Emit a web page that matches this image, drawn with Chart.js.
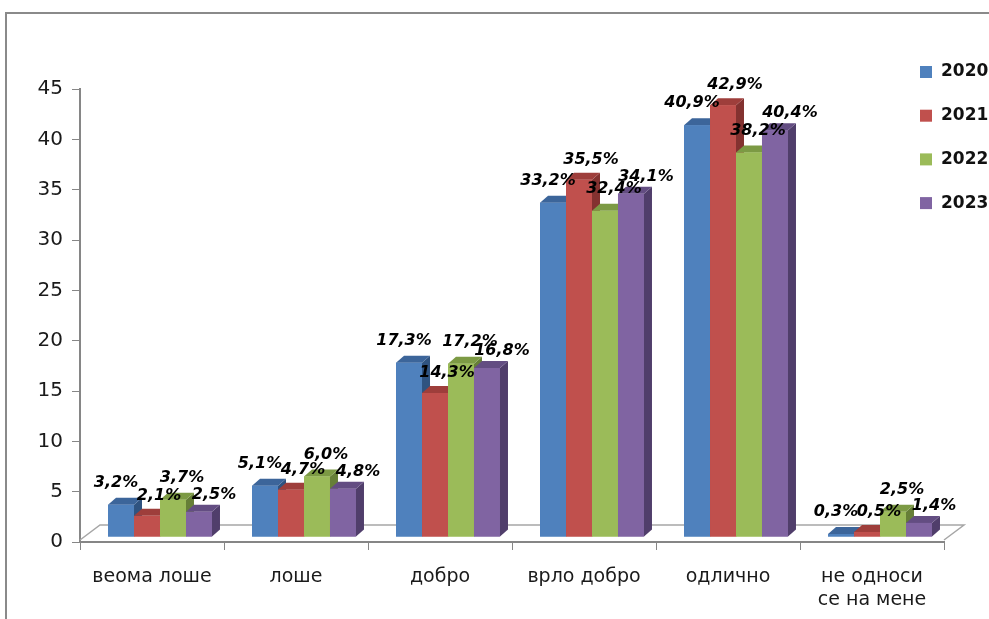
<!DOCTYPE html>
<html>
<head>
<meta charset="utf-8">
<script src="https://cdn.jsdelivr.net/npm/chart.js@4.4.1/dist/chart.umd.min.js"></script>
<style>
html,body{margin:0;padding:0;background:#fff;overflow:hidden;}
#wrap{position:relative;width:989px;height:619px;overflow:hidden;}
#frame{position:absolute;left:5px;top:12px;width:1100px;height:700px;border-left:2px solid #8a8a8a;border-top:2px solid #8a8a8a;pointer-events:none;}
</style>
</head>
<body>
<div id="wrap"><canvas id="mycanvas" width="989" height="619"></canvas><div id="frame"></div></div>
<script>
// data
var categories = ['веома лоше', 'лоше', 'добро', 'врло добро', 'одлично', ['не односи', 'се на мене']];
var years = ['2020', '2021', '2022', '2023'];
var v2020 = [3.2, 5.1, 17.3, 33.2, 40.9, 0.3];
var v2021 = [2.1, 4.7, 14.3, 35.5, 42.9, 0.5];
var v2022 = [3.7, 6.0, 17.2, 32.4, 38.2, 2.5];
var v2023 = [2.5, 4.8, 16.8, 34.1, 40.4, 1.4];
var yMin = 0, yMax = 45, yStep = 5;

var colors = ['#4F81BD', '#C0504D', '#9BBB59', '#8064A2'];
var topColors = ['#3C659A', '#9E3E3B', '#7C9A44', '#634D82'];
var sideColors = ['#2F5380', '#833230', '#667F37', '#503E6B'];
// where each series puts its value label, relative to the bar top
var labelShift = [[-5, -22], [12, -20], [9, -22], [15, -17]];

var DX = 8, DY = -7;      // bar depth
var FX = 20, FY = -15;    // floor depth

var series = [v2020, v2021, v2022, v2023];
var datasets = [];
for (var i = 0; i < series.length; i++) {
	datasets.push({
		label: years[i],
		data: series[i],
		backgroundColor: colors[i],
		borderWidth: 0,
		categoryPercentage: 0.722,
		barPercentage: 1.0
	});
}

function fmt(v) {
	return v.toFixed(1).replace('.', ',') + '%';
}

var bars3d = {
	id: 'bars3d',
	beforeDatasetsDraw: function(chart) {
		var ctx = chart.ctx, a = chart.chartArea;
		// floor
		ctx.save();
		ctx.strokeStyle = '#a6a6a6';
		ctx.lineWidth = 1.5;
		ctx.beginPath();
		ctx.moveTo(a.left, a.bottom - 2);
		ctx.lineTo(a.left + FX, a.bottom - 2 + FY);
		ctx.lineTo(a.right + FX, a.bottom - 2 + FY);
		ctx.lineTo(a.right, a.bottom - 2);
		ctx.stroke();
		ctx.restore();
		ctx.save();
		ctx.translate(8, -5);
	},
	afterDatasetsDraw: function(chart) {
		var ctx = chart.ctx;
		var n = chart.data.labels.length;
		for (var j = 0; j < n; j++) {
			for (var d = 0; d < chart.data.datasets.length; d++) {
				var bar = chart.getDatasetMeta(d).data[j];
				var l = bar.x - bar.width / 2, r = bar.x + bar.width / 2;
				var t = bar.y, b = bar.base;
				ctx.fillStyle = sideColors[d];
				ctx.beginPath();
				ctx.moveTo(r, t); ctx.lineTo(r + DX, t + DY); ctx.lineTo(r + DX, b + DY); ctx.lineTo(r, b);
				ctx.closePath(); ctx.fill();
				ctx.fillStyle = topColors[d];
				ctx.beginPath();
				ctx.moveTo(l, t); ctx.lineTo(l + DX, t + DY); ctx.lineTo(r + DX, t + DY); ctx.lineTo(r, t);
				ctx.closePath(); ctx.fill();
				bar.draw(ctx);
			}
		}
		ctx.font = 'italic bold 16px "DejaVu Sans"';
		ctx.fillStyle = '#000';
		ctx.textAlign = 'center';
		ctx.textBaseline = 'middle';
		for (var d2 = 0; d2 < chart.data.datasets.length; d2++) {
			var meta = chart.getDatasetMeta(d2);
			meta.data.forEach(function(bar, k) {
				var v = chart.data.datasets[d2].data[k];
				ctx.fillText(fmt(v), bar.x + labelShift[d2][0], bar.y + labelShift[d2][1]);
			});
		}
		ctx.restore();
	}
};

var sideLegend = {
	id: 'sideLegend',
	afterDraw: function(chart) {
		var ctx = chart.ctx;
		ctx.save();
		ctx.font = 'bold 17px "DejaVu Sans"';
		ctx.textBaseline = 'middle';
		ctx.textAlign = 'left';
		chart.data.datasets.forEach(function(ds, i) {
			var y = 72 + i * 43.7;
			ctx.fillStyle = ds.backgroundColor;
			ctx.fillRect(920, y - 6, 12, 12);
			ctx.fillStyle = '#111';
			ctx.fillText(ds.label, 941, y);
		});
		ctx.restore();
	}
};

var ctx = document.getElementById('mycanvas');
var barGraph = new Chart(ctx, {
	type: 'bar',
	data: { labels: categories, datasets: datasets },
	options: {
		responsive: false,
		animation: false,
		devicePixelRatio: 1,
		layout: { padding: { top: 89, right: 45, bottom: 0, left: 0 } },
		plugins: {
			legend: { display: false },
			tooltip: { enabled: false }
		},
		scales: {
			x: {
				afterFit: function(s) { s.height = 77; },
				grid: { display: true, drawOnChartArea: false, drawTicks: true, tickLength: 8, color: '#868686', offset: true },
				border: { display: true, color: '#868686', width: 2 },
				ticks: { font: { family: 'DejaVu Sans', size: 19 }, color: '#1a1a1a', padding: 16, maxRotation: 0, autoSkip: false }
			},
			y: {
				min: yMin,
				max: yMax,
				afterFit: function(s) { s.width = 80; },
				grid: { display: true, drawOnChartArea: false, drawTicks: true, tickLength: 8, color: '#868686' },
				border: { display: true, color: '#868686', width: 2 },
				ticks: { stepSize: yStep, font: { family: 'DejaVu Sans', size: 20 }, color: '#1a1a1a', padding: 9 }
			}
		}
	},
	plugins: [bars3d, sideLegend]
});
</script>
</body>
</html>
